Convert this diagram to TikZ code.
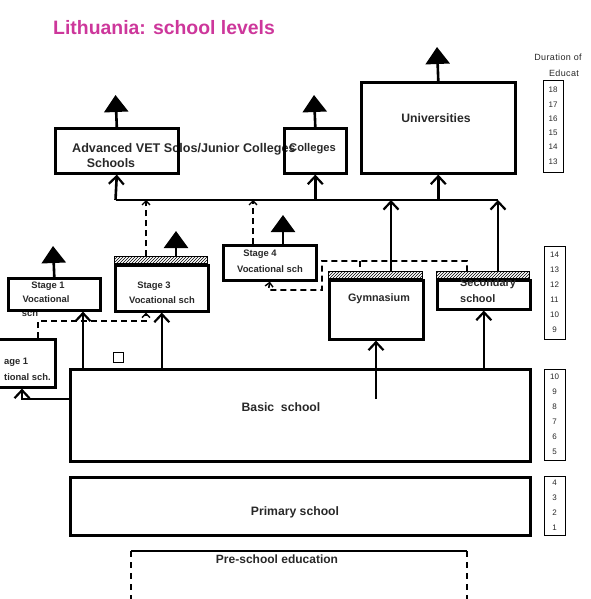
\documentclass[tikz,border=0pt]{standalone}
\usepackage{fontspec}
\setmainfont{Liberation Sans}
\usetikzlibrary{arrows.meta,patterns,calc}
\definecolor{titlemag}{RGB}{205,55,155}
\definecolor{txt}{RGB}{40,40,40}
\begin{document}
\begin{tikzpicture}[x=1pt,y=-1pt,
  box/.style={draw, line width=2.6pt, inner sep=0pt, anchor=north west},
  dbox/.style={draw, line width=0.8pt, inner sep=0pt, anchor=north west},
  hatch/.style={draw, line width=0.6pt, pattern=north east lines, inner sep=0pt, anchor=south west},
  t/.style={font=\bfseries\fontsize{#1}{#1}\selectfont, text=txt, inner sep=0pt},
  num/.style={font=\fontsize{8}{9}\selectfont, text=txt, inner sep=0pt},
  arr/.style={line width=2.6pt, -{Straight Barb[length=8pt,width=15pt,line width=2.2pt]}},
  tri/.style={line width=2.6pt, -{Triangle[length=17pt,width=24pt]}},
  darr/.style={line width=1.6pt, dash pattern=on 6pt off 4pt, -{Straight Barb[length=4pt,width=8pt,line width=1.4pt]}},
  dln/.style={line width=1.6pt, dash pattern=on 6pt off 4pt},
]
\useasboundingbox (0,0) rectangle (590,599);

% title
\node[font=\bfseries\fontsize{19.4}{23}\selectfont, text=titlemag, anchor=base west, inner sep=0pt] (title) at (53,35) {Lithuania: school levels};

% duration column
\node[font=\fontsize{9}{10}\selectfont\addfontfeature{LetterSpace=4}, text=txt, inner sep=0pt] (dur1) at (558,57) {Duration of};
\node[font=\fontsize{9}{10}\selectfont\addfontfeature{LetterSpace=4}, text=txt, inner sep=0pt] (dur2) at (564,73) {Educat};
\node[dbox, minimum width=20pt, minimum height=92pt] (d1) at (543,80) {};
\foreach \n [count=\i from 0] in {18,17,16,15,14,13}
  \node[num] (d1n\n) at (553,{90+14.3*\i}) {\n};
\node[dbox, minimum width=21pt, minimum height=93pt] (d2) at (544,246) {};
\foreach \n [count=\i from 0] in {14,13,12,11,10,9}
  \node[num] (d2n\n) at (554.5,{255+15*\i}) {\n};
\node[dbox, minimum width=21pt, minimum height=91pt] (d3) at (544,369) {};
\foreach \n [count=\i from 0] in {10,9,8,7,6,5}
  \node[num] (d3n\n) at (554.5,{377+15*\i}) {\n};
\node[dbox, minimum width=21pt, minimum height=59pt] (d4) at (544,476) {};
\foreach \n [count=\i from 0] in {4,3,2,1}
  \node[num] (d4n\n) at (554.5,{483+15*\i}) {\n};

% top level
\node[t=12.6, anchor=west] (adv1) at (72,149) {Advanced VET Sclos/Junior Colleges};
\node[t=12.4] (adv2) at (111,163) {Schools};
\node[box, minimum width=123pt, minimum height=45pt] (adv) at (54,127) {};
\node[t=11.2, anchor=west] (coltxt) at (289,149) {Colleges};
\node[box, minimum width=62pt, minimum height=45pt] (col) at (283,127) {};
\node[box, minimum width=154pt, minimum height=91pt] (uni) at (360,81) {};
\node[t=12.2] (unitxt) at (436,118) {Universities};

\coordinate (advtop) at (115.5,95);
\coordinate (coltop) at (314,95);
\coordinate (unitop) at (437,47);
\draw[tri] (adv.north) -- (advtop);
\draw[tri] (col.north) -- (coltop);
\draw[tri] (uni.north) -- (unitop);

% bus
\coordinate (busL) at (115.5,200);
\coordinate (busR) at (498,200);
\coordinate (xgym) at (391,0);
\coordinate (xs3d) at (146,0);
\coordinate (xs4d) at (253,0);
\draw[line width=2.6pt] (busL) -- (busR);
\draw[arr] (busL) -- (adv.south);
\draw[arr] (col.south |- busL) -- (col.south);
\draw[arr] (uni.south |- busL) -- (uni.south);

% stage 1 (top left)
\node[t=9.4] (st1c) at (30,313) {sch};
\node[box, minimum width=92pt, minimum height=32pt] (st1) at (7,277) {};
\node[t=9.4] (st1a) at (48,286) {Stage 1};
\node[t=9.4] (st1b) at (46,299) {Vocational};
\coordinate (st1top) at (53,246);
\draw[tri] (st1.north) -- (st1top);

% stage 3
\node[box, minimum width=93pt, minimum height=46pt] (st3) at (114,264) {};
\node[hatch, minimum width=93pt, minimum height=7pt] (st3h) at (st3.north west) {};
\node[t=9.4] (st3a) at (154,286) {Stage 3};
\node[t=9.4] (st3b) at (162,300) {Vocational sch};
\coordinate (st3top) at (176,231);
\draw[tri] (st3h.north -| st3top) -- (st3top);
\draw[darr] (st3h.north -| xs3d) -- (busL -| xs3d);

% stage 4
\node[box, minimum width=93pt, minimum height=35pt] (st4) at (222,244) {};
\node[t=9.4] (st4a) at (260,254) {Stage 4};
\node[t=9.4] (st4b) at (270,269) {Vocational sch};
\coordinate (st4top) at (283,215);
\draw[tri] (st4.north -| st4top) -- (st4top);
\draw[darr] (st4.north -| xs4d) -- (busL -| xs4d);

% gymnasium
\node[box, minimum width=94pt, minimum height=59pt] (gym) at (328,279) {};
\node[hatch, minimum width=94pt, minimum height=7pt] (gymh) at (gym.north west) {};
\node[t=10.8] (gymtxt) at (379,299) {Gymnasium};
\draw[arr] (gymh.north -| xgym) -- (busL -| xgym);

% secondary
\node[box, minimum width=93pt, minimum height=29pt] (sec) at (436,279) {};
\node[hatch, minimum width=93pt, minimum height=7pt] (sech) at (sec.north west) {};
\node[t=10.9, anchor=west] (sec1) at (460,284) {Secondary};
\node[t=10.9, anchor=west] (sec2) at (460,299) {school};
\draw[arr] (sech.north -| busR) -- (busR);

% stage 1 (left, cut)
\node[box, minimum width=66pt, minimum height=48pt] (sl) at (-12,338) {};
\node[t=9.4, anchor=west] (sl1) at (4,362) {age 1};
\node[t=9.4, anchor=west] (sl2) at (4,377) {tional sch.};

% dashed links
\coordinate (dk1) at (38,321);
\coordinate (dk2) at (146,321);
\draw[darr] (sl.north -| dk1) -- (dk1) -- (dk2) -- (st3.south -| dk2);
\coordinate (gk1) at (467,261);
\coordinate (gk2) at (322,261);
\coordinate (gk3) at (322,290);
\coordinate (gk4) at (268.5,290);
\coordinate (gk5) at (360,261);
\draw[darr] (sech.north -| gk1) -- (gk1) -- (gk2) -- (gk3) -- (gk4) -- (st4.south);
\draw[dln] (gk5) -- (gymh.north -| gk5);

% small square
\node[draw, line width=0.8pt, minimum width=10pt, minimum height=10pt, inner sep=0pt, anchor=north west] (sq) at (113,352) {};

% basic school
\node[box, minimum width=460pt, minimum height=92pt] (basic) at (69,368) {};
\node[t=12.2] (basictxt) at (281,407) {Basic~ school};
\coordinate (x83) at (83,0);
\coordinate (lk) at (22,399);
\coordinate (gst) at (376,399);
\draw[arr] (basic.north -| x83) -- (st1.south -| x83);
\draw[arr] (basic.north -| st3.south) -- (st3.south);
\draw[arr] (gst) -- (gym.south -| gst);
\draw[arr] (basic.north -| sec.south) -- (sec.south);
\draw[arr] (basic.west |- lk) -- (lk) -- (sl.south -| lk);

% primary school
\node[box, minimum width=460pt, minimum height=58pt] (prim) at (69,476) {};
\node[t=12.2] (primtxt) at (295,512) {Primary school};

% pre-school
\coordinate (psL) at (131,551);
\coordinate (psR) at (467,551);
\coordinate (psLb) at (131,599);
\coordinate (psRb) at (467,599);
\draw[line width=1.8pt] (psL) -- (psR);
\draw[line width=1.3pt, dash pattern=on 6pt off 5pt] (psL) -- (psLb);
\draw[line width=1.3pt, dash pattern=on 6pt off 5pt] (psR) -- (psRb);
\node[t=12] (pre) at (277,559) {Pre-school education};
\end{tikzpicture}
\end{document}
